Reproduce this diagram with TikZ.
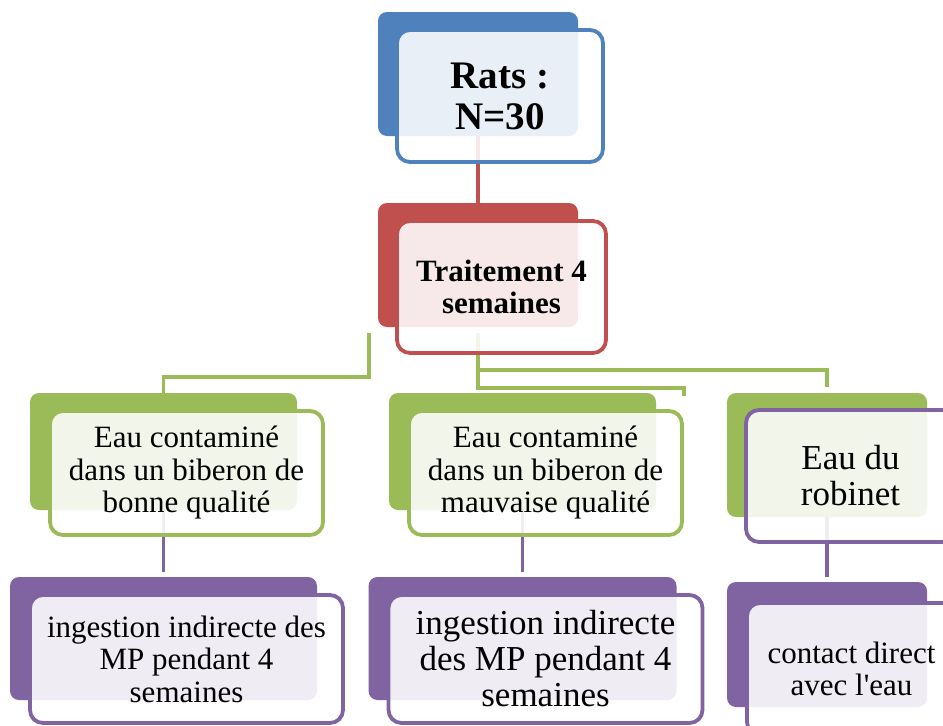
\documentclass[tikz,border=0pt]{standalone}
\usepackage{fontspec}
\setmainfont{Liberation Serif}
\usetikzlibrary{backgrounds}
\definecolor{rblue}{HTML}{4F81BD}
\definecolor{rred}{HTML}{C0504D}
\definecolor{rgreen}{HTML}{9BBB59}
\definecolor{rpurple}{HTML}{8064A2}
\begin{document}
\begin{tikzpicture}[x=1pt,y=-1pt,line join=round]
		\tikzset{backbox/.style={fill=#1,rounded corners=9pt,inner sep=0pt},
			frontbox/.style={draw=#1,line width=3.8pt,fill=white,fill opacity=.88,text opacity=1,rounded corners=13pt,align=center,inner sep=0pt},
			link/.style={draw=#1,line width=3.6pt},
			big/.style={font=\fontsize{35}{36}\selectfont},
			small/.style={font=\fontsize{31}{32.5}\selectfont}}
		\useasboundingbox (0,0) rectangle (943,726);
		% level 1
		\node[backbox=rblue,minimum width=200pt,minimum height=124pt] (rats) at (478,74) {};
		\node[frontbox=rblue,minimum width=206pt,minimum height=132pt,font=\fontsize{39}{41}\selectfont\bfseries] (rats-t) at (500,96) {Rats :\\N=30};
		% level 2
		\node[backbox=rred,minimum width=200pt,minimum height=124pt] (traitement) at (478,265) {};
		\node[frontbox=rred,minimum width=209pt,minimum height=132pt,font=\fontsize{31}{32}\selectfont\bfseries] (traitement-t) at (501.5,287) {Traitement 4\\semaines};
		% level 3
		\node[backbox=rgreen,minimum width=267pt,minimum height=117pt] (bonne) at (163.5,451.5) {};
		\node[frontbox=rgreen,minimum width=273pt,minimum height=124pt,small] (bonne-t) at (186.5,473) {Eau contaminé\\dans un biberon de\\bonne qualité};
		\node[backbox=rgreen,minimum width=267pt,minimum height=117pt] (mauvaise) at (522.5,451.5) {};
		\node[frontbox=rgreen,minimum width=273pt,minimum height=124pt,small] (mauvaise-t) at (545.5,473) {Eau contaminé\\dans un biberon de\\mauvaise qualité};
		\node[backbox=rgreen,minimum width=200pt,minimum height=124pt] (robinet) at (827,455) {};
		\node[frontbox=rpurple,minimum width=209pt,minimum height=132pt,big] (robinet-t) at (850.5,476) {Eau du\\robinet};
		% level 4
		\node[backbox=rpurple,minimum width=307pt,minimum height=123pt] (ingbonne) at (163.5,638.5) {};
		\node[frontbox=rpurple,minimum width=313pt,minimum height=128pt,small] (ingbonne-t) at (186.5,659) {ingestion indirecte des\\MP pendant 4\\semaines};
		\node[backbox=rpurple,minimum width=308pt,minimum height=123pt] (ingmauvaise) at (522.5,638.5) {};
		\node[frontbox=rpurple,minimum width=314pt,minimum height=128pt,big] (ingmauvaise-t) at (545.5,659) {ingestion indirecte\\des MP pendant 4\\semaines};
		\node[backbox=rpurple,minimum width=200pt,minimum height=125pt] (contact) at (827,644.5) {};
		\node[frontbox=rpurple,minimum width=209pt,minimum height=132pt,small] (contact-t) at (851.5,669) {contact direct\\avec l\textquotesingle eau};
		% connectors
		\begin{scope}[on background layer]
		\draw[link=rred] (rats.south) -- (traitement.north);
		\draw[link=rgreen] ([shift={(-9,6)}]traitement.south west) |- ([yshift=16pt]bonne.north) -- (bonne.north);
		\draw[link=rgreen] ([yshift=-6pt]traitement.south) |- ([yshift=21pt]mauvaise-t.north east) -- ([yshift=13pt]mauvaise-t.north east);
		\draw[link=rgreen] ([yshift=-6pt]traitement.south) |- ([yshift=23pt]robinet.north) -- ([yshift=6pt]robinet.north);
		\draw[link=rpurple] (bonne.south) -- ([yshift=5pt]ingbonne.north);
		\draw[link=rpurple] (mauvaise.south) -- ([yshift=5pt]ingmauvaise.north);
		\draw[link=rpurple] (robinet.south) -- ([yshift=5pt]contact.north);
		\end{scope}
		
		\end{tikzpicture}
\end{document}
